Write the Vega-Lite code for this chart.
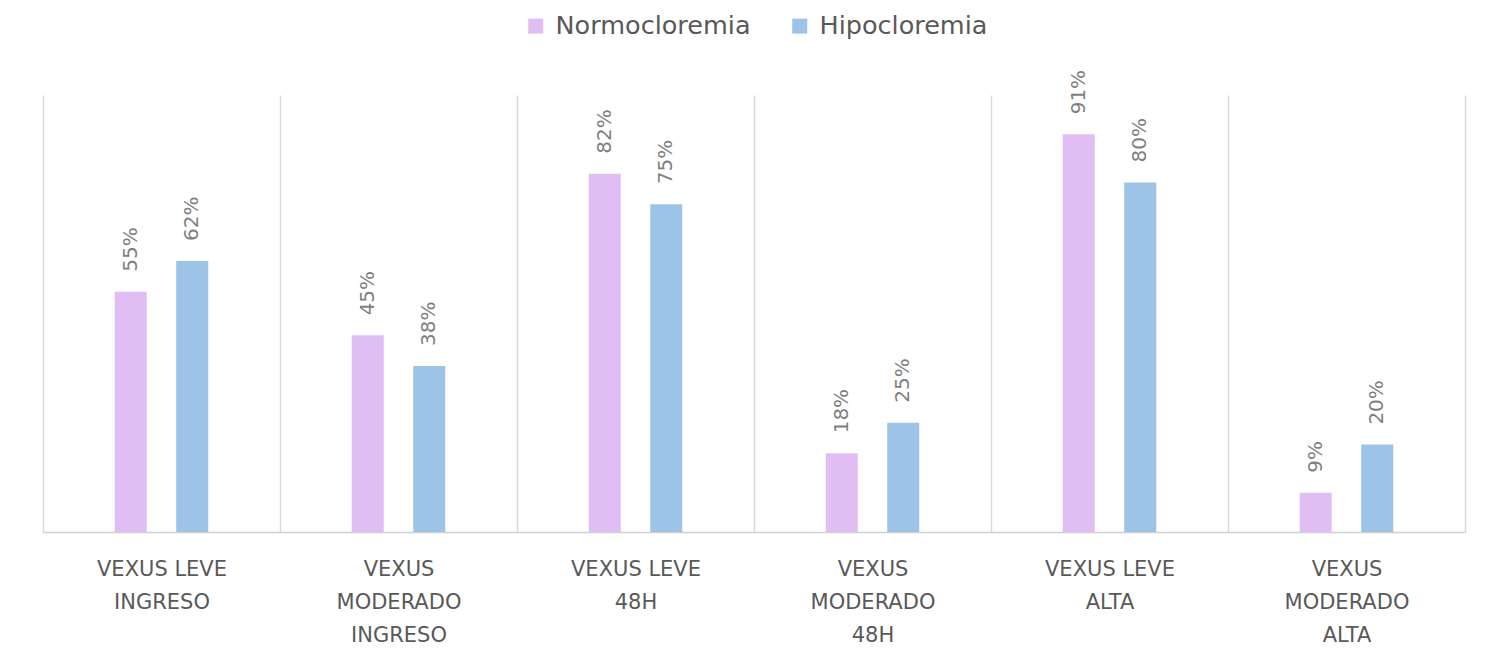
{
  "$schema": "https://vega.github.io/schema/vega-lite/v6.json",
  "width": 1422,
  "height": 437,
  "autosize": {"type": "none"},
  "padding": {"left": 43, "top": 95, "right": 25, "bottom": 140},
  "background": "white",
  "config": {"view": {"stroke": null}, "font": "DejaVu Sans"},
  "data": {
    "values": [
      {"categoria": "VEXUS LEVE INGRESO", "grupo": "Normocloremia", "valor": 0.55},
      {"categoria": "VEXUS LEVE INGRESO", "grupo": "Hipocloremia", "valor": 0.62},
      {"categoria": "VEXUS MODERADO INGRESO", "grupo": "Normocloremia", "valor": 0.45},
      {"categoria": "VEXUS MODERADO INGRESO", "grupo": "Hipocloremia", "valor": 0.38},
      {"categoria": "VEXUS LEVE 48H", "grupo": "Normocloremia", "valor": 0.82},
      {"categoria": "VEXUS LEVE 48H", "grupo": "Hipocloremia", "valor": 0.75},
      {"categoria": "VEXUS MODERADO 48H", "grupo": "Normocloremia", "valor": 0.18},
      {"categoria": "VEXUS MODERADO 48H", "grupo": "Hipocloremia", "valor": 0.25},
      {"categoria": "VEXUS LEVE ALTA", "grupo": "Normocloremia", "valor": 0.91},
      {"categoria": "VEXUS LEVE ALTA", "grupo": "Hipocloremia", "valor": 0.80},
      {"categoria": "VEXUS MODERADO ALTA", "grupo": "Normocloremia", "valor": 0.09},
      {"categoria": "VEXUS MODERADO ALTA", "grupo": "Hipocloremia", "valor": 0.20}
    ]
  },
  "encoding": {
    "x": {
      "field": "categoria",
      "type": "nominal",
      "sort": null,
      "scale": {"paddingInner": 0, "paddingOuter": 0},
      "axis": {
        "title": null,
        "labelAngle": 0,
        "labelFontSize": 21,
        "labelColor": "#595959",
        "labelLineHeight": 33,
        "labelPadding": 26,
        "labelBaseline": "top",
        "labelLimit": 0,
        "ticks": false,
        "tickBand": "extent",
        "grid": true,
        "gridColor": "#d9d9d9",
        "gridWidth": 1.5,
        "domainColor": "#d0d0d0",
        "domainWidth": 1.5,
        "labelExpr": "indexof(datum.label, 'MODERADO') >= 0 ? split(datum.label, ' ') : [substring(datum.label, 0, 10), substring(datum.label, 11)]"
      }
    },
    "xOffset": {
      "field": "grupo",
      "type": "nominal",
      "sort": ["Normocloremia", "Hipocloremia"],
      "scale": {"paddingInner": 0, "paddingOuter": 0.927}
    },
    "y": {
      "field": "valor",
      "type": "quantitative",
      "scale": {"domain": [0, 1]},
      "axis": null
    }
  },
  "layer": [
    {
      "mark": {"type": "bar", "width": 32, "xOffset": 1},
      "encoding": {
        "color": {
          "field": "grupo",
          "type": "nominal",
          "sort": ["Normocloremia", "Hipocloremia"],
          "scale": {"domain": ["Normocloremia", "Hipocloremia"], "range": ["#e0bef4", "#9dc3e6"]},
          "legend": {
            "title": null,
            "orient": "none",
            "legendX": 480,
            "legendY": -82,
            "direction": "horizontal",
            "symbolType": "square",
            "symbolSize": 225,
            "symbolStrokeWidth": 0,
            "labelFontSize": 25.5,
            "labelLimit": 0,
            "labelColor": "#595959",
            "labelOffset": 7,
            "columnPadding": 36,
            "padding": 0
          }
        }
      }
    },
    {
      "mark": {"type": "text", "angle": -90, "align": "left", "baseline": "middle", "dx": 20, "xOffset": 1, "fontSize": 20, "color": "#7f7f7f"},
      "encoding": {
        "text": {"field": "valor", "type": "quantitative", "format": ".0%"}
      }
    }
  ]
}
